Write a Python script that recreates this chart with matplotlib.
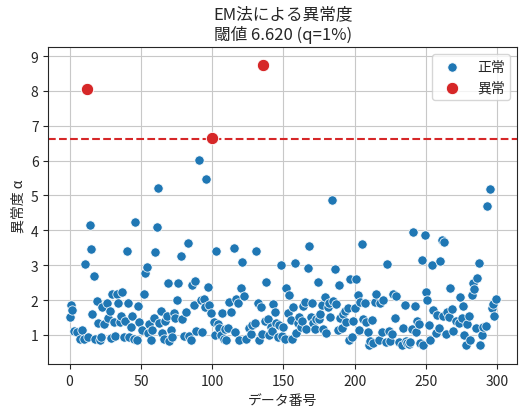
import numpy as np
import matplotlib
matplotlib.use("Agg")
import matplotlib.pyplot as plt
from matplotlib.ticker import MultipleLocator
import seaborn as sns

sns.set_style("ticks")
plt.rcParams['font.family'] = ['Noto Sans CJK JP', 'DejaVu Sans']

# data: (index, anomaly score)
idx = [0, 1, 2, 3, 5, 7, 9, 10, 11, 12, 13, 14, 15, 16, 17, 18, 19, 20, 21, 22,
       23, 24, 26, 27, 28, 29, 30, 31, 32, 33, 34, 35, 36, 37, 38, 39, 40, 41, 42, 43,
       44, 45, 46, 47, 48, 49, 51, 52, 53, 54, 55, 56, 57, 58, 59, 60, 61, 62, 63, 64,
       65, 66, 67, 68, 69, 70,
       71, 72, 73, 74, 75, 76, 78, 79, 80, 82, 83, 84, 85, 86, 87, 88, 89, 91, 92, 93,
       94, 95, 96, 97, 98, 99, 100, 101, 102, 103, 104, 105, 106, 107, 108, 109, 110, 111, 112, 113,
       115, 116, 117, 118, 119, 120, 121, 122, 124, 126, 127, 128, 130, 131, 132, 133, 134, 135, 136, 137,
       138, 139, 140, 141, 142, 143, 144, 145, 146, 147, 148, 149, 150, 151, 152, 153, 154,
       155, 156, 157, 158, 159, 160, 161, 162, 163, 164, 165, 166, 167, 168, 169, 170, 171, 172, 173, 174,
       175, 176, 177, 178, 179, 180, 181, 182, 183, 184, 185, 186, 187, 188, 189, 190, 191, 192, 193, 194,
       195, 196, 197, 198, 199, 200, 201, 202, 203, 204, 205, 206, 207, 208, 209, 210, 211, 212, 213, 214,
       215, 217, 218, 219, 220, 222, 223, 224, 225, 226, 227, 228, 229, 231, 233, 234, 235, 236, 237, 238,
       239, 240, 241, 242, 243, 244, 245, 246, 247, 248, 249, 250, 251, 252, 253, 254, 255, 257, 258, 259,
       260, 261, 262, 263, 264, 265, 266, 267, 268, 269, 271, 273, 274, 275, 276, 277, 278, 279, 280, 281,
       282, 283, 284, 285, 286, 287, 288, 289, 290, 292, 293, 295, 296, 297, 298, 299]
score = [1.50, 1.86, 1.72, 1.10, 1.09, 0.88, 1.14, 0.88, 3.04, 8.05, 0.94, 4.14, 3.45, 1.61, 2.69, 0.89, 1.97, 1.35, 0.84, 0.95,
         1.81, 1.30, 1.91, 1.47, 1.69, 0.90, 2.18, 1.36, 0.97, 2.18, 1.91, 1.36, 1.54, 2.24, 0.93, 1.40, 3.41, 1.91, 0.95, 1.24,
         1.55, 0.87, 4.24, 0.84, 1.84, 1.38, 1.13, 2.16, 2.78, 2.96, 1.05, 1.31, 0.85, 1.13, 1.48, 3.39, 4.09, 5.22, 1.33, 1.68,
         1.04, 0.89, 1.40, 1.55, 2.48, 0.83,
         1.13, 0.95, 1.64, 1.48, 1.99, 2.50, 3.27, 1.45, 0.98, 1.67, 3.65, 0.97, 0.86, 2.44, 1.87, 2.54, 1.12, 6.01, 2.01, 1.07,
         2.02, 1.80, 5.48, 2.38, 1.85, 1.64, 6.64, 1.37, 1.00, 3.41, 1.31, 1.21, 0.99, 1.64, 0.88, 1.18, 0.86, 1.21, 1.95, 1.66,
         3.48, 1.09, 2.03, 1.92, 0.86, 2.35, 3.10, 2.11, 0.87, 1.19, 1.03, 1.28, 1.34, 3.41, 1.91, 0.84, 1.79, 1.02, 8.75, 1.40,
         2.53, 1.45, 0.99, 1.24, 1.12, 1.88, 1.67, 1.34, 0.93, 1.29, 3.01, 0.97, 1.24, 0.89, 2.34, 1.64, 2.14,
         1.43, 0.87, 1.81, 3.07, 1.05, 1.33, 1.50, 1.23, 1.40, 1.82, 1.95, 1.18, 2.93, 3.56, 1.51, 1.92, 1.35, 1.18, 1.45, 2.52,
         1.45, 1.61, 1.85, 1.18, 2.08, 1.05, 1.79, 1.91, 1.50, 4.86, 1.97, 2.89, 1.90, 1.15, 2.44, 1.48, 1.21, 1.60, 1.68, 1.37,
         1.76, 0.86, 2.59, 0.95, 1.41, 1.78, 2.59, 2.14, 1.15, 1.95, 3.62, 1.45, 1.91, 1.37, 1.09, 0.70, 0.83, 1.42, 0.78, 1.95,
         2.18, 0.86, 1.91, 1.07, 2.00, 0.80, 3.02, 1.12, 0.83, 1.03, 2.18, 1.48, 2.12, 0.80, 0.71, 1.20, 1.86, 0.83, 0.78, 0.73,
         0.80, 1.18, 3.94, 1.82, 1.07, 1.40, 1.30, 0.78, 3.16, 0.70, 3.87, 2.22, 1.99, 1.29, 0.86, 3.01, 1.72, 1.05, 1.58, 1.21,
         3.11, 3.71, 1.53, 3.66, 1.02, 1.67, 1.52, 2.35, 1.74, 1.10, 1.40, 1.33, 2.09, 1.47, 1.82, 0.99, 0.71, 1.31, 1.54, 0.84,
         2.13, 2.49, 2.32, 1.19, 2.63, 3.06, 0.71, 1.01, 1.23, 1.26, 4.69, 5.19, 1.76, 1.89, 1.55, 2.04]

threshold = 6.620
q = 1

idx = np.array(idx)
score = np.array(score)
anom = score > threshold

fig = plt.figure(figsize=(5.25, 4.14), dpi=100)
ax = fig.add_axes([0.092, 0.118, 0.893, 0.766])

sns.scatterplot(x=idx[~anom], y=score[~anom], ax=ax, color="#1f77b4", s=45, label="正常", zorder=3)
sns.scatterplot(x=idx[anom], y=score[anom], ax=ax, color="#d62728", s=80, label="異常", zorder=3)
ax.axhline(threshold, color="#d62728", linestyle="--", linewidth=1.5, zorder=2)

ax.set_ylim(0.16, 9.26)
ax.yaxis.set_major_locator(MultipleLocator(1))
ax.set_title("EM法による異常度\n閾値 {:.3f} (q={}%)".format(threshold, q), fontsize=12)
ax.set_xlabel("データ番号")
ax.set_ylabel("異常度 α")
ax.grid(True, color="#c8c8c8", linewidth=0.8)
ax.set_axisbelow(True)
ax.legend(loc="upper right")

fig.savefig("out.png", dpi=100)
